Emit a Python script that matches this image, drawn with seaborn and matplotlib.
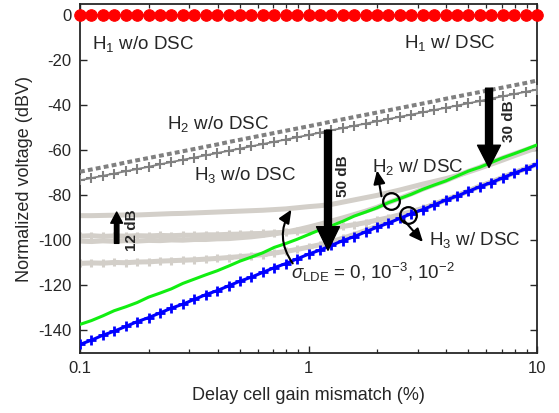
import numpy as np
import pandas as pd
import matplotlib
matplotlib.use("Agg")
import matplotlib.pyplot as plt
from matplotlib.patches import FancyArrowPatch
import seaborn as sns

# ---------------- data ----------------
mismatch = np.logspace(-1, 1, 41)  # delay cell gain mismatch (%)

h1 = [0.0] * 41

h2_wo = [-69.5, -68.5, -67.5, -66.5, -65.4, -64.4, -63.4, -62.4, -61.4, -60.4,
         -59.4, -58.4, -57.4, -56.3, -55.3, -54.3, -53.3, -52.3, -51.3, -50.3,
         -49.3, -48.3, -47.2, -46.2, -45.2, -44.2, -43.2, -42.2, -41.2, -40.2,
         -39.2, -38.2, -37.1, -36.1, -35.1, -34.1, -33.1, -32.1, -31.1, -30.1, -29.0]

h3_wo = [-73.3, -72.3, -71.3, -70.3, -69.3, -68.3, -67.3, -66.2, -65.2, -64.2,
         -63.2, -62.2, -61.2, -60.2, -59.2, -58.2, -57.2, -56.2, -55.2, -54.2,
         -53.2, -52.1, -51.1, -50.1, -49.1, -48.1, -47.1, -46.1, -45.1, -44.1,
         -43.1, -42.1, -41.1, -40.1, -39.1, -38.1, -37.0, -36.0, -35.0, -34.0, -33.0]

h2_w = [-137.3, -135.6, -133.5, -131.2, -129.5, -127.6, -125.2, -123.4, -121.5, -119.1,
        -117.2, -115.3, -113.5, -111.4, -109.2, -107.4, -105.5, -103.1, -101.4, -99.5,
        -97.4, -95.3, -93.5, -91.5, -89.2, -87.4, -85.5, -83.2, -81.4, -79.5,
        -77.3, -75.4, -73.6, -71.4, -69.2, -67.5, -65.4, -63.3, -61.5, -59.6, -57.6]

h3_w = [-146.2, -144.3, -142.1, -140.3, -138.2, -136.1, -134.3, -132.2, -130.1, -128.3,
        -126.2, -124.1, -122.3, -120.2, -118.1, -116.3, -114.2, -112.1, -110.3, -108.2,
        -106.1, -104.3, -102.2, -100.1, -98.3, -96.2, -94.1, -92.3, -90.2, -88.1,
        -86.3, -84.2, -82.1, -80.3, -78.2, -76.1, -74.3, -72.2, -70.1, -68.3, -66.2]

# H2 w/ DSC with LDE sigma = 1e-2 and 1e-3
h2_lde2 = [-89.0, -89.0, -88.9, -88.8, -88.7, -88.7, -88.5, -88.3, -88.1, -88.0,
           -87.8, -87.6, -87.4, -87.2, -87.0, -86.8, -86.6, -86.3, -86.0, -85.5,
           -85.0, -84.6, -84.0, -83.0, -82.0, -81.0, -80.0, -78.8, -77.6, -76.3,
           -75.0, -73.8, -72.6, -71.2, -69.6, -67.9, -66.1, -64.3, -62.4, -60.6, -58.8]

h2_lde3 = [-100.3, -100.5, -100.2, -100.4, -100.1, -100.3, -100.0, -100.1, -99.8, -99.9,
           -99.6, -99.6, -99.3, -99.2, -98.8, -98.4, -97.8, -97.1, -96.3, -95.3,
           -94.1, -92.8, -91.4, -90.0, -88.5, -87.0, -85.3, -83.2, -81.3, -79.3,
           -77.2, -75.3, -73.5, -71.4, -69.3, -67.5, -65.4, -63.4, -61.6, -59.8, -58.0]

# H3 w/ DSC with LDE sigma = 1e-2 and 1e-3
h3_lde2 = [-98.1, -97.9, -98.2, -98.0, -98.1, -97.9, -98.0, -97.8, -97.9, -97.7,
           -97.7, -97.5, -97.5, -97.3, -97.2, -97.0, -96.9, -96.6, -96.4, -96.0,
           -95.6, -95.1, -94.5, -93.8, -93.0, -92.1, -91.0, -89.9, -88.6, -87.2,
           -85.8, -84.0, -82.0, -80.2, -78.1, -76.0, -74.2, -72.1, -70.0, -68.2, -66.1]

h3_lde3 = [-110.2, -110.0, -110.1, -109.8, -109.9, -109.6, -109.5, -109.2, -109.0, -108.8,
           -108.6, -108.3, -108.0, -107.6, -107.2, -106.8, -106.3, -105.6, -104.9, -104.0,
           -103.0, -101.9, -100.6, -99.0, -97.4, -95.6, -93.7, -91.8, -89.8, -87.8,
           -85.9, -84.0, -81.9, -80.1, -78.0, -75.9, -74.1, -72.0, -69.9, -68.1, -66.0]

x_ticks = [0.1, 1, 10]
x_ticklabels = ["0.1", "1", "10"]
y_ticks = [-140, -120, -100, -80, -60, -40, -20, 0]

# ---------------- style ----------------
sns.set_theme(style="ticks")
plt.rcParams["font.family"] = ["Liberation Sans", "DejaVu Sans"]
plt.rcParams["mathtext.fontset"] = "custom"
plt.rcParams["mathtext.rm"] = "Liberation Sans"
plt.rcParams["mathtext.it"] = "Liberation Sans:italic"
plt.rcParams["mathtext.bf"] = "Liberation Sans:bold"
plt.rcParams["axes.unicode_minus"] = False

W, H = 559, 413
fig = plt.figure(figsize=(W / 100, H / 100), dpi=100)
ax = fig.add_axes([80 / W, 60 / H, 457 / W, 349 / H])
ax.set_xscale("log")

df = pd.DataFrame({"x": mismatch, "h1": h1, "h2_wo": h2_wo, "h3_wo": h3_wo,
                   "h2_w": h2_w, "h3_w": h3_w, "h2_lde2": h2_lde2, "h2_lde3": h2_lde3,
                   "h3_lde2": h3_lde2, "h3_lde3": h3_lde3})

grey_lde = "#d3cfc9"
for col, mk in [("h2_lde2", None), ("h2_lde3", None), ("h3_lde2", "+"), ("h3_lde3", "+")]:
    kw = dict(marker=mk, markersize=6, markeredgewidth=2.2, markeredgecolor=grey_lde) if mk else {}
    sns.lineplot(data=df, x="x", y=col, ax=ax, color=grey_lde, lw=3.6, zorder=2, **kw)

sns.lineplot(data=df, x="x", y="h2_wo", ax=ax, color="#808080", lw=2.9,
             linestyle=(0, (1.2, 0.8)), zorder=3)
sns.lineplot(data=df, x="x", y="h3_wo", ax=ax, color="#808080", lw=1.3,
             marker="+", markersize=7, markeredgewidth=1.5, markeredgecolor="#808080", zorder=3)
sns.lineplot(data=df, x="x", y="h2_w", ax=ax, color="#11ee11", lw=2.2, zorder=4)
sns.lineplot(data=df, x="x", y="h3_w", ax=ax, color="#0000ff", lw=2.2,
             marker="+", markersize=7, markeredgewidth=2.0, markeredgecolor="#0000ff", zorder=5)
sns.lineplot(data=df, x="x", y="h1", ax=ax, color="#ff0000", lw=1.5,
             marker="o", markersize=8.3, markeredgecolor="#ff0000", markerfacecolor="#ff0000",
             zorder=6, clip_on=False)

ax.set_xlim(0.1, 10)
ax.set_ylim(-150, 5)
ax.set_xticks(x_ticks)
ax.set_xticklabels(x_ticklabels)
ax.set_yticks(y_ticks)
ax.set_yticklabels([str(v) for v in y_ticks])
ax.set_xlabel("Delay cell gain mismatch (%)", fontsize=13, color="#262626", labelpad=8)
ax.set_ylabel("Normalized voltage (dBV)", fontsize=13, color="#262626", labelpad=4)
ax.tick_params(which="both", direction="in", top=True, right=True, colors="#262626",
               labelsize=12)
ax.tick_params(which="major", length=5, width=1.0, pad=6)
ax.tick_params(which="minor", length=3, width=0.9)
for s in ax.spines.values():
    s.set_linewidth(1.3)
    s.set_color("#262626")
ax.grid(False)

# ---------------- annotations ----------------
tfs = 13.5
ax.text(0.1129, -14.8, "H$_1$ w/o DSC", fontsize=tfs, va="baseline")
ax.text(2.618, -14.4, "H$_1$ w/ DSC", fontsize=tfs, va="baseline")
ax.text(0.2395, -50.4, "H$_2$ w/o DSC", fontsize=tfs, va="baseline")
ax.text(0.3163, -73.3, "H$_3$ w/o DSC", fontsize=tfs, va="baseline")
ax.text(1.891, -69.6, "H$_2$ w/ DSC", fontsize=tfs, va="baseline")
ax.text(3.379, -102.2, "H$_3$ w/ DSC", fontsize=tfs, va="baseline")
ax.text(0.836, -117.0, r"$\sigma_{\rm LDE}$ = 0, 10$^{-3}$, 10$^{-2}$", fontsize=tfs, va="baseline")

ax.text(0.1684, -95.5, "12 dB", fontsize=11, fontweight="bold", rotation=90,
        ha="center", va="center")
ax.text(1.412, -71.6, "50 dB", fontsize=11, fontweight="bold", rotation=90,
        ha="center", va="center")
ax.text(7.56, -47.1, "30 dB", fontsize=11, fontweight="bold", rotation=90,
        ha="center", va="center")


def big_arrow(x, y0, y1, tw, hw, hl):
    a = FancyArrowPatch((x, y0), (x, y1), arrowstyle=f"simple,head_length={hl},head_width={hw},tail_width={tw}",
                        mutation_scale=1, color="black", shrinkA=0, shrinkB=0, zorder=7)
    ax.add_patch(a)


big_arrow(0.1447, -101.3, -87.4, 3.2, 8.5, 8)
big_arrow(1.217, -51.1, -104.4, 5.0, 16.5, 17)
big_arrow(6.166, -32.4, -67.6, 5.0, 16.5, 16)

# circles
ax.plot([2.29], [-82.5], marker="o", markersize=12, markerfacecolor="none",
        markeredgecolor="black", markeredgewidth=1.6, zorder=8)
ax.plot([2.717], [-88.9], marker="o", markersize=12, markerfacecolor="none",
        markeredgecolor="black", markeredgewidth=1.6, zorder=8)


def small_arrow(p0, p1, rad=0.0):
    a = FancyArrowPatch(p0, p1, arrowstyle="-|>,head_length=0.8,head_width=0.35",
                        mutation_scale=10, color="black", lw=1.5, shrinkA=0, shrinkB=0,
                        connectionstyle=f"arc3,rad={rad}", zorder=8)
    ax.add_patch(a)


small_arrow((2.086, -80.4), (1.994, -68.9))
small_arrow((2.618, -91.1), (3.17, -100.7))
small_arrow((0.853, -110.2), (0.842, -86.3), rad=-0.33)

fig.savefig("out.png", dpi=100)
